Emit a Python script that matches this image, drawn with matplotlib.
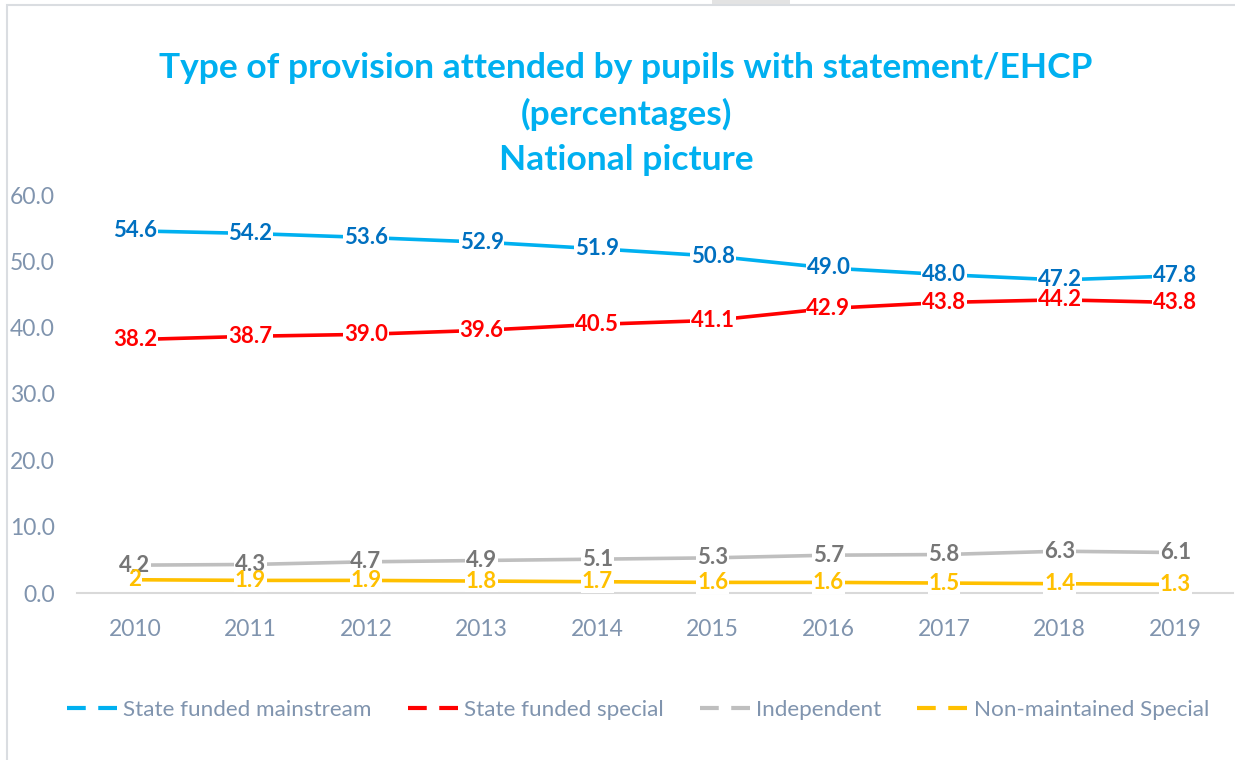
import matplotlib
matplotlib.use("Agg")
import matplotlib.pyplot as plt
from matplotlib.lines import Line2D
from matplotlib.patches import Rectangle

years = ["2010", "2011", "2012", "2013", "2014", "2015", "2016", "2017", "2018", "2019"]
mainstream = [54.6, 54.2, 53.6, 52.9, 51.9, 50.8, 49.0, 48.0, 47.2, 47.8]
special = [38.2, 38.7, 39.0, 39.6, 40.5, 41.1, 42.9, 43.8, 44.2, 43.8]
independent = [4.2, 4.3, 4.7, 4.9, 5.1, 5.3, 5.7, 5.8, 6.3, 6.1]
non_maintained = [2, 1.9, 1.9, 1.8, 1.7, 1.6, 1.6, 1.5, 1.4, 1.3]
series_names = ["State funded mainstream", "State funded special", "Independent", "Non-maintained Special"]
y_ticks = [0, 10, 20, 30, 40, 50, 60]

FONT = "Lato"
plt.rcParams['font.family'] = [FONT, 'DejaVu Sans']

line_colors = ["#00B0F0", "#FF0000", "#BFBFBF", "#FFC000"]
label_colors = ["#0070C0", "#FF0000", "#767676", "#FFC000"]
label_fmt = ["{:.1f}", "{:.1f}", "{:.1f}", "{:g}"]
tick_color = "#8094AE"

W, H = 1235, 760
fig = plt.figure(figsize=(W / 100, H / 100), dpi=100)
fig.patch.set_facecolor("white")

# outer frame
fig.add_artist(Rectangle((7 / W, -0.05), 1.2, 1 - 5 / H + 0.05, transform=fig.transFigure,
                         fill=False, edgecolor="#DADDE1", linewidth=1.5))
fig.add_artist(Rectangle((712 / W, 1 - 4 / H), 78 / W, 4 / H, transform=fig.transFigure,
                         facecolor="#E3E3E3", edgecolor="none"))

left, right = 77 / W, 1233 / W
bottom, top = 1 - 593 / H, 1 - 195 / H
ax = fig.add_axes([left, bottom, right - left, top - bottom])
ax.set_facecolor("none")

x = list(range(len(years)))
all_series = [mainstream, special, independent, non_maintained]
for vals, lc, tc, fmt, name in zip(all_series, line_colors, label_colors, label_fmt, series_names):
    ax.plot(x, vals, color=lc, linewidth=2.6, solid_capstyle="butt", zorder=3, label=name)
    for xi, v in zip(x, vals):
        s = fmt.format(v)
        # white box that breaks the line behind the label
        ax.text(xi, v, s, ha="center", va="center", color="white", alpha=0.0,
                fontsize=16, fontweight="bold", zorder=4,
                bbox=dict(boxstyle="square,pad=0.04", facecolor="white", edgecolor="none", alpha=1.0))
        # the label glyphs, always drawn above every box
        ax.text(xi, v, s, ha="center", va="center", color=tc,
                fontsize=16, fontweight="bold", zorder=6)

ax.set_xlim(-0.5, len(years) - 0.5)
ax.set_ylim(0, 60)
ax.set_xticks(x)
ax.set_xticklabels(years)
ax.set_yticks(y_ticks)
ax.set_yticklabels([f"{t:.1f}" for t in y_ticks])
for s in ["left", "right", "top"]:
    ax.spines[s].set_visible(False)
ax.spines["bottom"].set_color("#D9D9D9")
ax.spines["bottom"].set_linewidth(1.5)
ax.spines["bottom"].set_zorder(1)
ax.tick_params(axis="both", length=0, colors=tick_color, labelsize=16.5)
ax.tick_params(axis="y", pad=16)
ax.tick_params(axis="x", pad=19)

title_lines = ["Type of provision attended by pupils with statement/EHCP", "(percentages)", "National picture"]
for i, t in enumerate(title_lines):
    fig.text(626 / W, 1 - (68 + 46 * i) / H, t, ha="center", va="center",
             color="#00B0F0", fontsize=25.5, fontweight="bold")

handles = [Line2D([0], [0], color=c, linewidth=3, dashes=(4.5, 3)) for c in line_colors]
leg = fig.legend(handles, series_names, loc="center", bbox_to_anchor=(638 / W, 1 - 710 / H),
                 ncol=4, frameon=False, fontsize=16.2, handlelength=2.4, handletextpad=0.1,
                 columnspacing=1.6)
for t in leg.get_texts():
    t.set_color(tick_color)

fig.savefig("out.png", dpi=100, facecolor="white")
